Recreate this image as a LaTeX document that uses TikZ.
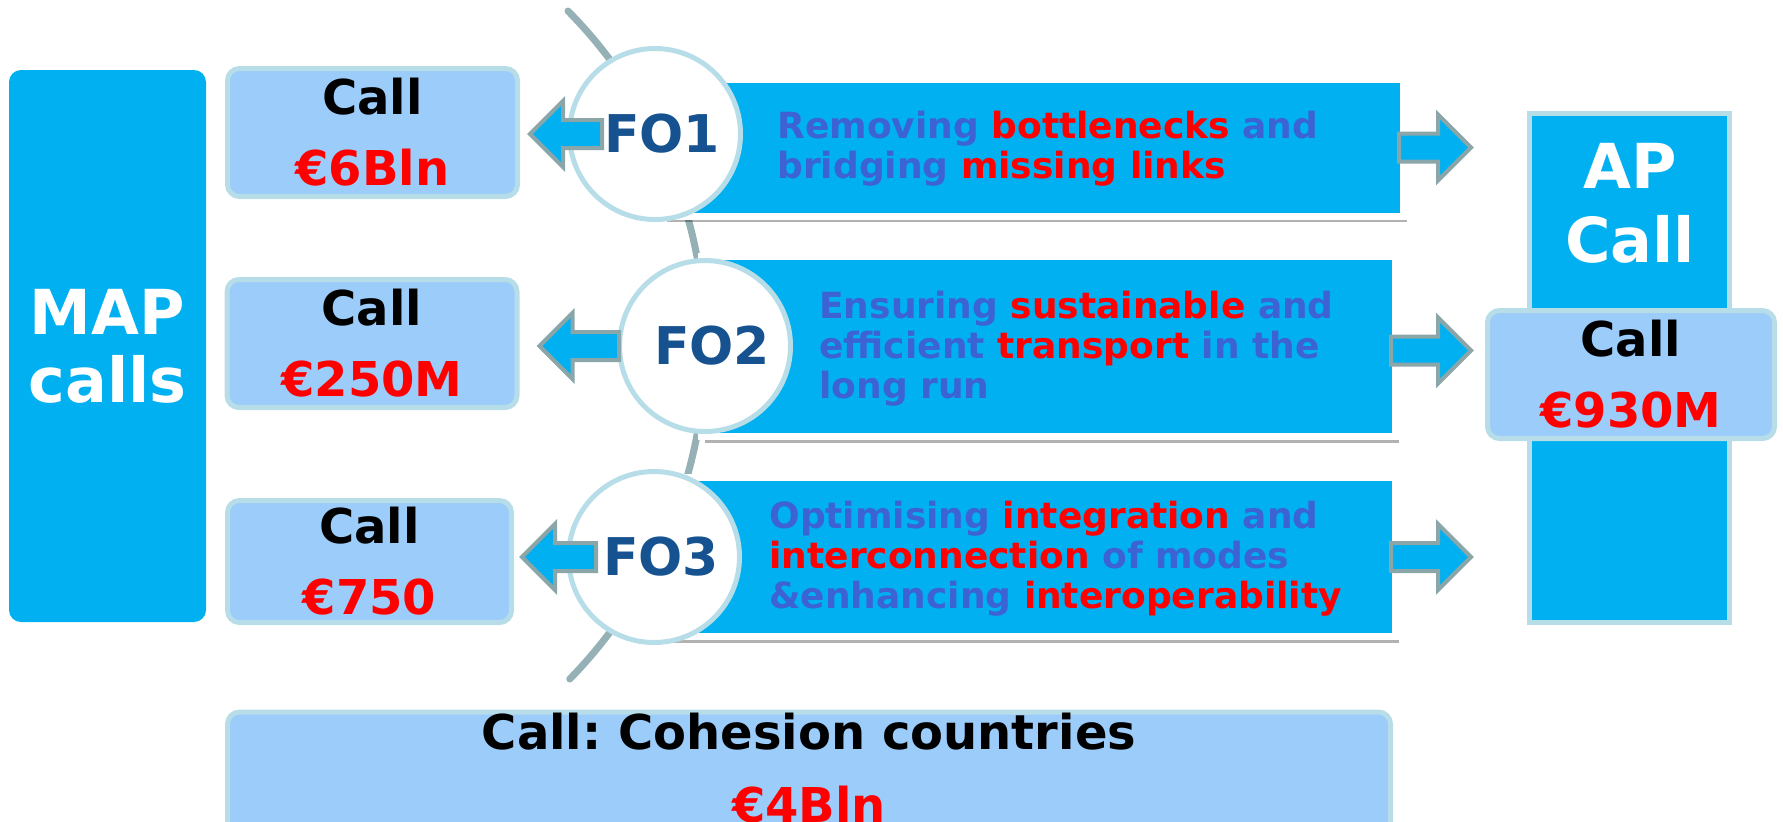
\documentclass[tikz,border=0pt]{standalone}
\usepackage{fontspec}
\setmainfont{DejaVu Sans}
\usetikzlibrary{calc,shadows,backgrounds}
\definecolor{apblue}{HTML}{00B0F0}
\definecolor{callfill}{HTML}{9BCCFA}
\definecolor{rimteal}{HTML}{B7DEE8}
\definecolor{fonavy}{HTML}{15528F}
\definecolor{aimblue}{HTML}{3C62D4}
\definecolor{hotred}{HTML}{FF0000}
\definecolor{arrowgray}{HTML}{8BA6A8}
\definecolor{spinegray}{HTML}{95B1B5}
\newcommand{\redword}[1]{\textcolor{hotred}{#1}}
\frenchspacing
\tikzset{bigword/.style={text=white,align=center,inner sep=0pt,font=\fontsize{31}{34}\selectfont\bfseries},
  mapbar/.style={bigword,fill=apblue,rounded corners=6pt},
  callbox/.style={fill=callfill,draw=rimteal,line width=2.5pt,rounded corners=6pt,align=center,
    inner sep=0pt,font=\fontsize{24}{35.5}\selectfont\bfseries},
  fo/.style={circle,fill=white,draw=rimteal,line width=2.5pt,minimum size=85.5pt,inner sep=0pt,
    text=fonavy,font=\fontsize{26}{30}\selectfont\bfseries,execute at begin node=\hspace*{7pt}},
  banner/.style={fill=apblue,draw=white,line width=3.5pt,inner sep=0pt,
    drop shadow={shadow xshift=1.5pt,shadow yshift=-3pt,fill=black,opacity=.3}},
  aim/.style={text=aimblue,align=left,inner sep=0pt,anchor=north west,font=\fontsize{18}{20}\selectfont\bfseries},
  barrow/.style={draw=arrowgray,fill=apblue,line width=2pt,
    to path={let \p1=(\tikztostart),\p2=(\tikztotarget),\n1={sign(\x2-\x1)} in
      (\x1,{\y1+7pt}) -- ({\x2-\n1*16.5pt},{\y1+7pt}) -- ({\x2-\n1*16.5pt},{\y1+16.5pt}) -- (\x2,\y1)
      -- ({\x2-\n1*16.5pt},{\y1-16.5pt}) -- ({\x2-\n1*16.5pt},{\y1-7pt}) -- (\x1,{\y1-7pt}) -- cycle}},
  spine/.style={draw=spinegray,line width=3.5pt,line cap=round}}
\begin{document}
\begin{tikzpicture}[x=0.5pt,y=-0.5pt]
\useasboundingbox (0,0) rectangle (1783,821);
\clip (0,0) rectangle (1783,821);
% left column
\node[mapbar,minimum width=98.5pt,minimum height=276pt] (map) at (107.5,346) {MAP\\calls};
\node[callbox,minimum width=145pt,minimum height=64pt] (call1) at (372.5,132.5) {Call\\\redword{€6Bln}};
\node[callbox,minimum width=145pt,minimum height=64pt] (call2) at (372,343.5) {Call\\\redword{€250M}};
\node[callbox,minimum width=142pt,minimum height=61pt] (call3) at (369.5,561.5) {Call\\\redword{€750}};
% objectives
\node[fo] (fo1) at (655,134) {FO1};
\node[fo] (fo2) at (705,346) {FO2};
\node[fo] (fo3) at (654,557) {FO3};
\begin{pgfonlayer}{background}
\draw[spine] (568,11) arc[start angle=-44.6,end angle=44.3,radius=477];
\node[banner,minimum width=370pt,minimum height=68.5pt] (b1) at (1033.5,147.5) {};
\node[banner,minimum width=347pt,minimum height=90pt] (b2) at (1048.5,346.5) {};
\node[banner,minimum width=369.5pt,minimum height=79.5pt] (b3) at (1026,557) {};
\end{pgfonlayer}
\draw[barrow] ([xshift=17.5pt]fo1.west) to ([xshift=5pt]call1.east);
\draw[barrow] ([xshift=1pt]fo2.west) to ([xshift=10pt]call2.east);
\draw[barrow] ([xshift=15pt]fo3.west) to ([xshift=4pt]call3.east);
\node[aim] (aim1) at (777,110.6) {Removing \redword{bottlenecks} and\\bridging \redword{missing links}};
\node[aim] (aim2) at (819,290.6) {Ensuring \redword{sustainable} and\\efficient \redword{transport} in the\\long run};
\node[aim] (aim3) at (769,500.6) {Optimising \redword{integration} and\\\redword{interconnection} of modes\\\&enhancing \redword{interoperability}};
% AP side
\node[fill=apblue,draw=rimteal,line width=2.5pt,minimum width=100pt,minimum height=254.5pt] (apbar) at (1629.5,368) {};
\node[bigword,font=\fontsize{31}{37}\selectfont\bfseries] (aptitle) at (1630,203) {AP\\Call};
\node[callbox,minimum width=143.5pt,minimum height=64pt] (apcall) at (1631,374.5) {Call\\\redword{€930M}};
\draw[barrow] ([xshift=-4pt]b1.east) to ([xshift=-28pt]apbar.west);
\draw[barrow] ([xshift=-4pt,yshift=-2pt]b2.east) to ([xshift=-28pt]apbar.west);
\draw[barrow] ([xshift=-4pt]b3.east) to ([xshift=-28pt]apbar.west);
% cohesion
\node[callbox,anchor=north,minimum width=581.5pt,inner ysep=0.5pt,text depth=40pt,
  font=\fontsize{24}{36.5}\selectfont\bfseries] (cohesion) at (809,709.5)
  {Call: Cohesion countries\\\redword{€4Bln}};
\end{tikzpicture}
\end{document}
